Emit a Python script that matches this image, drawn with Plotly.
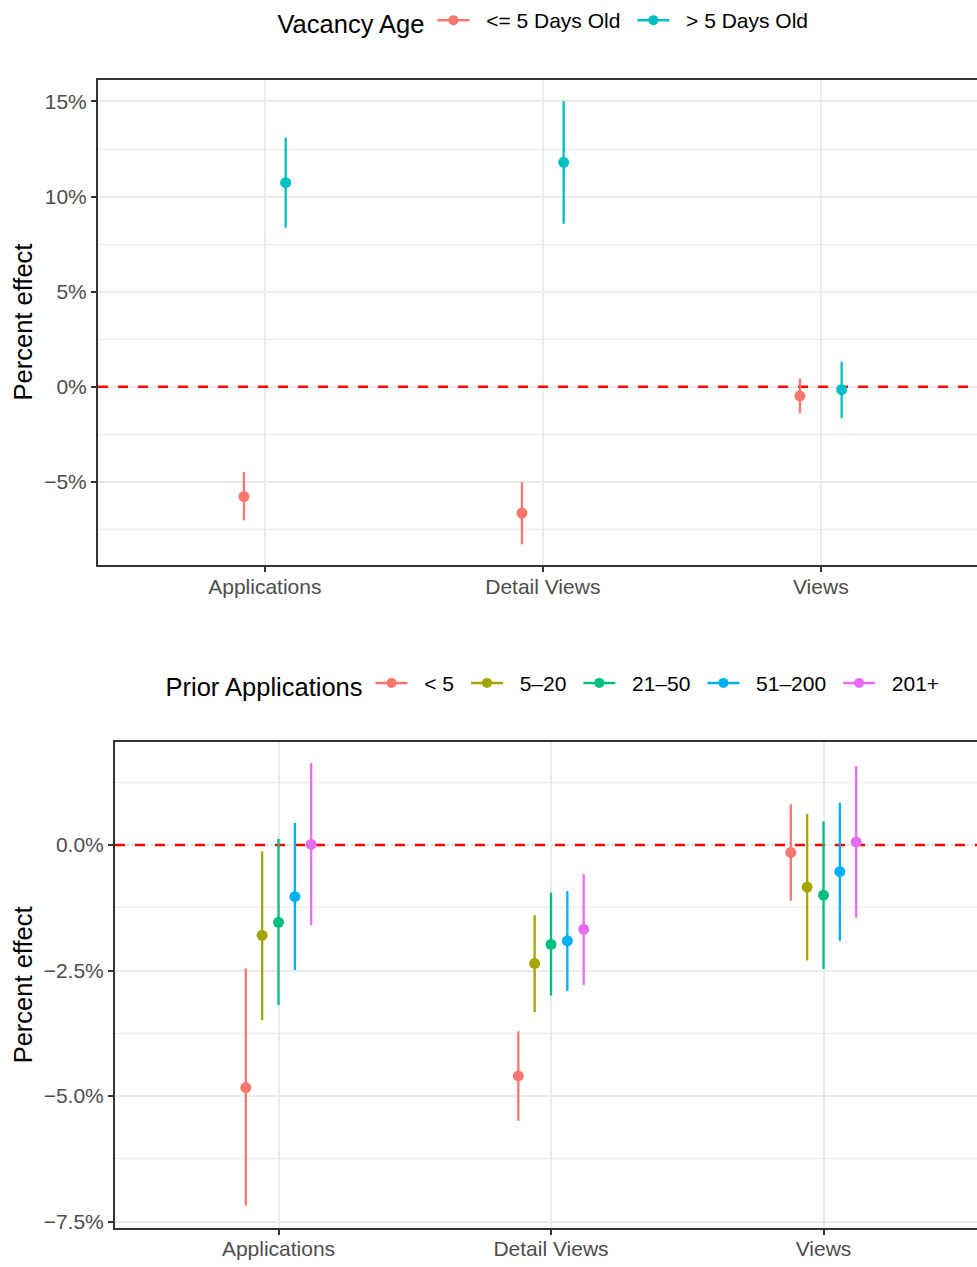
import plotly.graph_objects as go

# Outcome categories shared by both panels
outcomes = ["Applications", "Detail Views", "Views"]

# Panel 1: effect by vacancy age (percent), point estimate and 95% interval
age_groups = ["<= 5 Days Old", "> 5 Days Old"]
age_colors = ["#F8766D", "#00BFC4"]
age_est = [[-5.78, -6.65, -0.49], [10.73, 11.80, -0.16]]
age_lo = [[-7.03, -8.31, -1.41], [8.36, 8.57, -1.66]]
age_hi = [[-4.50, -5.03, 0.43], [13.10, 15.01, 1.31]]
age_ticks = [-5, 0, 5, 10, 15]
age_tick_text = ["\u22125%", "0%", "5%", "10%", "15%"]

# Panel 2: effect by number of prior applications (percent)
prior_groups = ["< 5", "5\u201320", "21\u201350", "51\u2013200", "201+"]
prior_colors = ["#F8766D", "#A3A500", "#00BF7D", "#00B0F6", "#E76BF3"]
prior_est = [[-4.83, -4.60, -0.15], [-1.80, -2.36, -0.84], [-1.54, -1.98, -1.00],
             [-1.03, -1.91, -0.53], [0.01, -1.68, 0.06]]
prior_lo = [[-7.18, -5.49, -1.11], [-3.49, -3.33, -2.30], [-3.19, -3.00, -2.47],
            [-2.49, -2.91, -1.91], [-1.60, -2.79, -1.45]]
prior_hi = [[-2.46, -3.71, 0.81], [-0.13, -1.40, 0.62], [0.12, -0.95, 0.47],
            [0.44, -0.92, 0.84], [1.63, -0.58, 1.57]]
prior_ticks = [-7.5, -5.0, -2.5, 0.0]
prior_tick_text = ["\u22127.5%", "\u22125.0%", "\u22122.5%", "0.0%"]

W, H = 977, 1267
FONT = "Liberation Sans, Arial, sans-serif"
GRID = "#EBEBEB"
BORDER = "#333333"
TICK_SIZE = 21
TITLE_SIZE = 25.5
DODGE = 0.3
X_RANGE = (0.4, 3.6)
KEY_PAD = "\u00a0\u00a0"   # space between legend key and its label

# approximate advance widths (1/1000 em) of the sans font, used to space legend entries
_ADV = {" ": 278, "\u00a0": 278, "<": 584, "=": 584, ">": 584, "+": 584, "\u2013": 556,
        "D": 722, "O": 778, "a": 556, "y": 500, "s": 500, "l": 222, "d": 556}


def text_px(s, size):
    return sum(_ADV.get(ch, 556) for ch in s) * size / 1000.0


fig = go.Figure()


def add_panel(groups, colors, est, lo, hi, xa, ya, legend):
    # dashed zero reference line, underneath the estimates
    fig.add_trace(go.Scatter(
        x=list(X_RANGE), y=[0, 0], mode="lines",
        line=dict(color="#FF0000", width=2.5, dash="10px,10px"),
        xaxis=xa, yaxis=ya, showlegend=False, hoverinfo="skip",
    ))
    n = len(groups)
    xs_base = list(range(1, len(outcomes) + 1))
    for i, (g, c) in enumerate(zip(groups, colors)):
        off = (i - (n - 1) / 2) * DODGE / n
        xs = [x + off for x in xs_base]
        fig.add_trace(go.Scatter(
            x=xs, y=est[i], mode="markers",
            marker=dict(color=c, size=11),
            error_y=dict(type="data", symmetric=False,
                         array=[h - e for h, e in zip(hi[i], est[i])],
                         arrayminus=[e - l for e, l in zip(est[i], lo[i])],
                         color=c, thickness=2.3, width=0),
            xaxis=xa, yaxis=ya, showlegend=False, name=g,
        ))
        # legend key: line through a dot
        label = KEY_PAD + g
        fig.add_trace(go.Scatter(
            x=[None], y=[None], mode="lines+markers", name=label,
            line=dict(color=c, width=2.5), marker=dict(color=c, size=10),
            xaxis=xa, yaxis=ya, legend=legend, showlegend=True,
            legendwidth=text_px(label, TICK_SIZE) + 7,
        ))


add_panel(age_groups, age_colors, age_est, age_lo, age_hi, "x", "y", "legend")
add_panel(prior_groups, prior_colors, prior_est, prior_lo, prior_hi, "x2", "y2", "legend2")

# plot-area extents in pixels
p1 = dict(left=98, top=79, bottom=567)
p2 = dict(left=115, top=745, bottom=1233)
step1 = 278.0
step2 = 272.5

xcommon = dict(
    tickmode="array", tickvals=[1, 2, 3], ticktext=outcomes,
    showgrid=True, gridcolor=GRID, gridwidth=2, zeroline=False,
    showline=True, linecolor=BORDER, linewidth=2, mirror=True,
    ticks="outside", ticklen=5, tickwidth=2, tickcolor=BORDER,
    ticklabelstandoff=-4,
    tickfont=dict(family=FONT, size=TICK_SIZE, color="#4D4D4D"),
)
ycommon = dict(
    tickmode="array",
    showgrid=True, gridcolor=GRID, gridwidth=2, zeroline=False,
    showline=True, linecolor=BORDER, linewidth=2, mirror=False,
    ticks="outside", ticklen=5, tickwidth=2, tickcolor=BORDER,
    tickfont=dict(family=FONT, size=TICK_SIZE, color="#4D4D4D"),
)

legend_common = dict(
    orientation="h", xanchor="center", yanchor="middle",
    bgcolor="rgba(0,0,0,0)", itemwidth=32,
    font=dict(size=TICK_SIZE, family=FONT, color="black"),
)

fig.update_layout(
    width=W, height=H,
    margin=dict(l=0, r=0, t=0, b=0),
    paper_bgcolor="white", plot_bgcolor="white",
    font=dict(family=FONT, color="black"),
    xaxis=dict(xcommon, domain=[p1["left"] / W, 1], anchor="y",
               range=[X_RANGE[0], X_RANGE[0] + (W - p1["left"]) / step1]),
    yaxis=dict(ycommon, domain=[1 - p1["bottom"] / H, 1 - p1["top"] / H], anchor="x",
               range=[-9.4, 16.15], tickvals=age_ticks, ticktext=age_tick_text,
               minor=dict(tickmode="array", tickvals=[-7.5, -2.5, 2.5, 7.5, 12.5],
                          showgrid=True, gridcolor=GRID, gridwidth=1, ticks="")),
    xaxis2=dict(xcommon, domain=[p2["left"] / W, 1], anchor="y2",
                range=[X_RANGE[0], X_RANGE[0] + (W - p2["left"]) / step2]),
    yaxis2=dict(ycommon, domain=[1 - p2["bottom"] / H, 1 - p2["top"] / H], anchor="x2",
                range=[-7.63, 2.04], tickvals=prior_ticks, ticktext=prior_tick_text,
                minor=dict(tickmode="array", tickvals=[-6.25, -3.75, -1.25, 1.25],
                           showgrid=True, gridcolor=GRID, gridwidth=1, ticks="")),
    legend=dict(legend_common, x=548 / W, y=1 - 21 / H,
                title=dict(text="Vacancy Age", side="left",
                           font=dict(size=TITLE_SIZE, family=FONT, color="black"))),
    legend2=dict(legend_common, x=557.5 / W, y=1 - 687 / H,
                 title=dict(text="Prior Applications", side="left",
                            font=dict(size=TITLE_SIZE, family=FONT, color="black"))),
)

# y-axis titles
for ya_mid in ((p1["top"] + p1["bottom"]) / 2, (p2["top"] + p2["bottom"]) / 2):
    fig.add_annotation(text="Percent effect", textangle=-90, xref="paper", yref="paper",
                       x=23 / W, y=1 - ya_mid / H, xanchor="center", yanchor="middle",
                       showarrow=False, font=dict(size=TITLE_SIZE, family=FONT, color="black"))

fig.write_html("out.html")
